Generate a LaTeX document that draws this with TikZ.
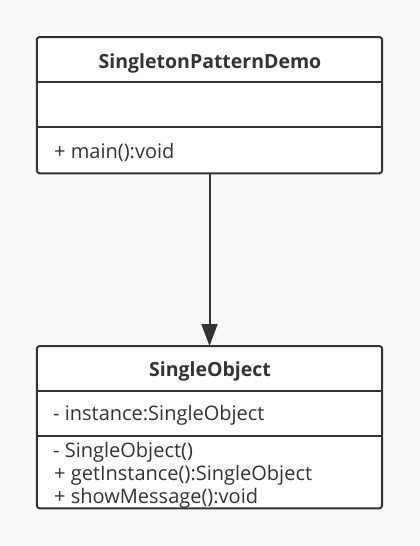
\documentclass[tikz,border=0pt]{standalone}
\usepackage{fontspec}
\setmainfont{Open Sans}
\usetikzlibrary{positioning, arrows.meta}

\definecolor{umlline}{HTML}{333333}
\definecolor{umlbg}{HTML}{F9F9F9}

\begin{document}
\begin{tikzpicture}[
    x=1pt, y=-1pt,
    >=Triangle,
    font=\fontsize{20}{23}\selectfont,
    class box/.style={fill=white, rounded corners=3pt, minimum width=345pt,
                      inner sep=0pt, anchor=north},
    class outline/.style={draw=umlline, line width=2pt, rounded corners=3pt},
    class name/.style={font=\fontsize{19.5}{23}\selectfont\bfseries, text=umlline},
    member/.style={anchor=west, text=umlline, inner sep=0pt},
    divider/.style={draw=umlline, line width=2pt},
]

\useasboundingbox[fill=umlbg] (0,0) rectangle (420,546);

% =====================================================================
%  TOP CLASS — SingletonPatternDemo
% =====================================================================
\node[class box, minimum height=136pt] (demo) at (209.5, 37) {};
\node[class name] (demoName) at (210, 63) {SingletonPatternDemo};
\draw[divider] (demo.west |- 0,82) -- (demo.east |- 0,82);
\draw[divider] (demo.west |- 0,127) -- (demo.east |- 0,127);
\node[member] (demoMain) at (54, 152) {+ main():void};
\draw[class outline] (demo.north west) rectangle (demo.south east);

% =====================================================================
%  BOTTOM CLASS — SingleObject
% =====================================================================
\node[class box, minimum height=162pt] (single) at (209.5, 346) {};
\node[class name] (singleName) at (210, 371) {SingleObject};
\draw[divider] (single.west |- 0,391) -- (single.east |- 0,391);
\draw[divider] (single.west |- 0,436) -- (single.east |- 0,436);
\node[member] (singleInst) at (53, 415) {- instance:SingleObject};
\node[member] (singleCtor) at (53, 452) {- SingleObject()};
\node[member] (singleGet) at (54, 475) {+ getInstance():SingleObject};
\node[member] (singleShow) at (54, 498) {+ showMessage():void};
\draw[class outline] (single.north west) rectangle (single.south east);

% --- Association arrow ---
\draw[umlline, line width=2pt, ->, >={Triangle[length=22pt, width=16pt]}]
    (demo.south) -- (single.north);

\end{tikzpicture}
\end{document}
